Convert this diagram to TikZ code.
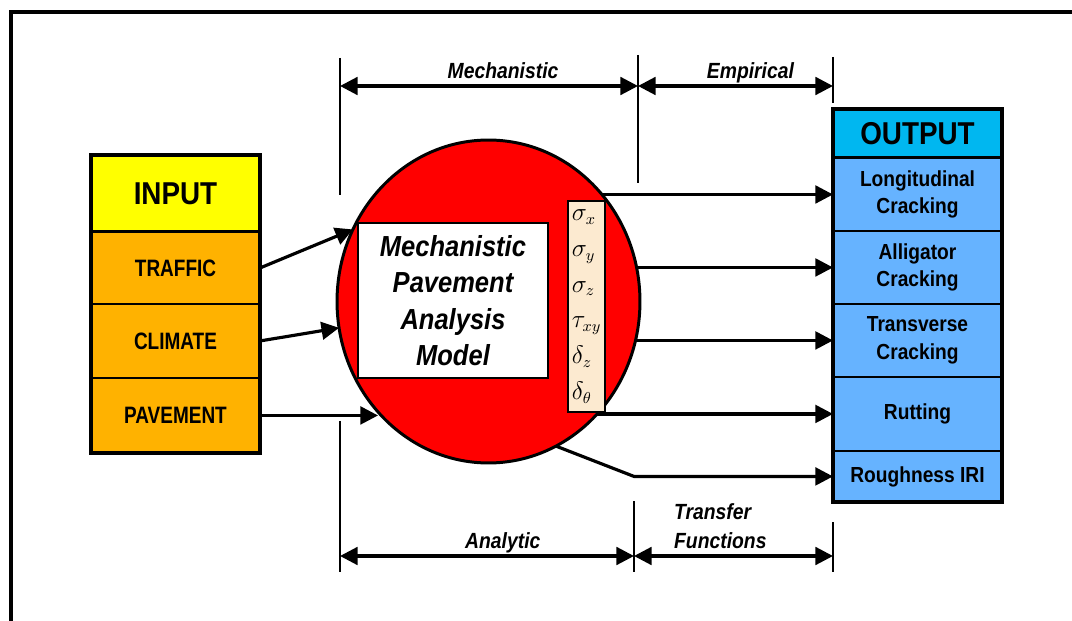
\documentclass[tikz,border=0pt]{standalone}
\usepackage{fontspec}
\setmainfont[FakeStretch=0.88]{Liberation Sans}
\newfontfamily\narrowfont[FakeStretch=0.8]{Liberation Sans}
\usetikzlibrary{arrows.meta, positioning, shapes.geometric, fit, backgrounds, calc}
\usepackage{xcolor}
\definecolor{in-yellow}{RGB}{255,255,0}
\definecolor{in-orange}{RGB}{255,178,0}
\definecolor{out-cyan}{RGB}{0,183,240}
\definecolor{out-blue}{RGB}{102,179,255}
\definecolor{model-red}{RGB}{255,0,0}
\definecolor{stress-light}{RGB}{252,234,208}

\begin{document}
\begin{tikzpicture}[
  x=0.02cm, y=-0.02cm,
  >={Triangle[length=10pt, width=10pt]},
  node distance = 0pt,
  every node/.style = {inner sep=0pt, outer sep=0pt, align=center},
  % Box styles
  inhead/.style   = {draw, line width=0.8pt, fill=in-yellow, minimum width=3.38cm,
                     font=\fontsize{18}{20}\selectfont\bfseries},
  inrow/.style    = {draw, line width=0.8pt, fill=in-orange, minimum width=3.38cm,
                     font=\narrowfont\fontsize{13.5}{15}\selectfont\bfseries},
  outhead/.style  = {draw, line width=0.8pt, fill=out-cyan, minimum width=3.38cm,
                     font=\fontsize{18}{20}\selectfont\bfseries},
  outrow/.style   = {draw, line width=0.8pt, fill=out-blue, minimum width=3.38cm,
                     font=\fontsize{12.4}{15.7}\selectfont\bfseries},
  boxframe/.style = {draw, line width=2.3pt},
  % Arrow styles
  conn/.style     = {->, line width=1.8pt},
  dimline/.style  = {line width=0.8pt},
  dimarrow/.style = {<->, line width=1.8pt},
  dimlabel/.style = {font=\fontsize{12.5}{17}\selectfont\bfseries\itshape, text depth=0pt},
]
\useasboundingbox (0,0) rectangle (1072,621);

% ── Frame ──────────────────────────────────────────────────────────────────────
\draw[line width=1.8pt] (11,621) -- (11,12) -- (1072,12);

% ── Nodes ──────────────────────────────────────────────────────────────────────

% Input column (left)
\node[inhead, minimum height=1.54cm] (input) at (175.5,193.5) {INPUT};
\node[inrow, minimum height=1.44cm, below=of input]   (traffic)  {TRAFFIC};
\node[inrow, minimum height=1.48cm, below=of traffic] (climate)  {CLIMATE};
\node[inrow, minimum height=1.5cm,  below=of climate] (pavement) {PAVEMENT};
\node[boxframe, fit=(input)(pavement)] (inbox) {};
\draw[line width=1.7pt] (input.south west) -- (input.south east);

% Model (centre)
\node[ellipse, draw, fill=model-red, line width=1.7pt,
      minimum width=6.06cm, minimum height=6.46cm] (model) at (488.5,301.5) {};
\node[draw, fill=white, line width=0.8pt, minimum width=3.8cm, minimum height=3.1cm,
      font=\fontsize{16.5}{20.7}\selectfont\bfseries\itshape] (mpam) at (453,300.5)
  {Mechanistic\\Pavement\\Analysis\\Model};
\node[draw, fill=stress-light, line width=0.6pt, minimum width=0.74cm,
      minimum height=4.22cm, align=left, font=\fontsize{13.5}{20.4}\selectfont]
  (stress) at (586.5,306.5)
  {$\sigma_x$\\$\sigma_y$\\$\sigma_z$\\$\tau_{xy}$\\$\delta_z$\\$\delta_\theta$};

% Output column (right)
\node[outhead, minimum height=0.98cm] (output) at (917.5,133.5) {OUTPUT};
\node[outrow, minimum height=1.46cm, below=of output]     (longcrack)  {Longitudinal\\Cracking};
\node[outrow, minimum height=1.46cm, below=of longcrack]  (allicrack)  {Alligator\\Cracking};
\node[outrow, minimum height=1.46cm, below=of allicrack]  (transcrack) {Transverse\\Cracking};
\node[outrow, minimum height=1.48cm, below=of transcrack] (rutting)    {Rutting};
\node[outrow, minimum height=1.02cm, below=of rutting]    (rough)      {Roughness IRI};
\node[boxframe, fit=(output)(rough)] (outbox) {};
\draw[line width=1.7pt] (output.south west) -- (output.south east);
\draw[line width=1.4pt] (rutting.south west) -- (rutting.south east);

% ── Arrows ─────────────────────────────────────────────────────────────────────

% inputs -> model
\draw[conn] (traffic.east) -- (model.152);
\draw[conn] (climate.east) -- (model.190);
\draw[conn] (pavement.east) -- (pavement.east -| model.225);

% model -> outputs (start hidden behind the model)
\begin{scope}[on background layer]
  \foreach \n in {longcrack, allicrack, transcrack, rutting}
    \draw[conn] (model.center |- \n.west) -- (\n.west);
\end{scope}
\coordinate (tfmid) at (634,501);
\draw[conn] (model.295) -- (rough.west -| tfmid) -- (rough.west);

% ── Dimensions ─────────────────────────────────────────────────────────────────

% top: mechanistic / empirical
\coordinate (mechleft)  at (340,86);
\coordinate (mechright) at (638,86);
\coordinate (empright)  at (833,86);
\draw[dimline] (340,58) -- (340,195);
\draw[dimline] (638,55) -- (638,183);
\draw[dimline] (833,57) -- (833,103);
\draw[dimarrow] (mechleft) -- node[dimlabel, above=4pt, xshift=8pt] {Mechanistic} (mechright);
\draw[dimarrow] (mechright) -- node[dimlabel, above=4pt, xshift=8.5pt] {Empirical} (empright);

% bottom: analytic / transfer functions
\coordinate (anleft)  at (340,556);
\coordinate (anright) at (634,556);
\coordinate (tfright) at (833,556);
\draw[dimline] (340,421) -- (340,572);
\draw[dimline] (tfmid) -- (634,572);
\draw[dimline] (833,522) -- (833,572);
\draw[dimarrow] (anleft) -- node[dimlabel, above=4pt, xshift=9pt] {Analytic} (anright);
\draw[dimarrow] (anright) -- node[dimlabel, above=4pt, xshift=-7.5pt, align=left]
  {Transfer\\Functions} (tfright);

\end{tikzpicture}
\end{document}
